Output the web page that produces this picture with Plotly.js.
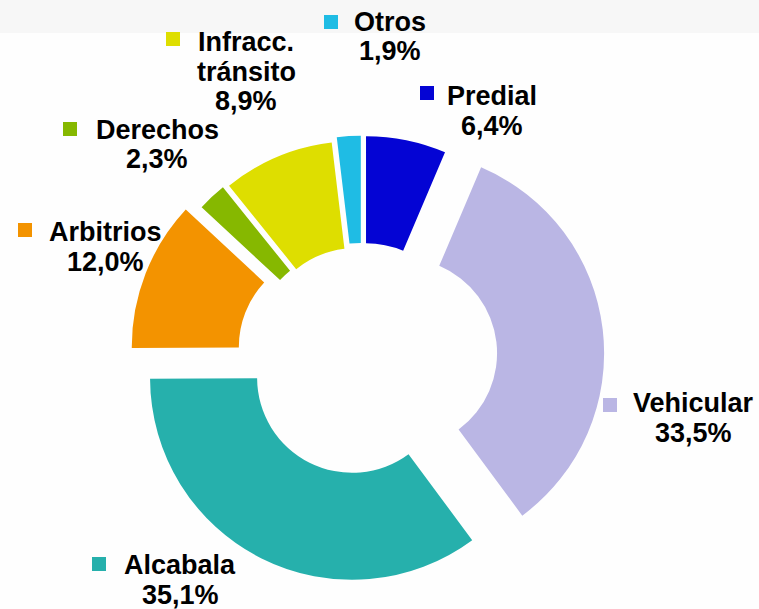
<!DOCTYPE html>
<html>
<head>
<meta charset="utf-8">
<script src="https://cdn.plot.ly/plotly-3.0.1.min.js"></script>
<style>
  html, body { margin: 0; padding: 0; background: #ffffff; }
  #chart { width: 759px; height: 609px; }
</style>
</head>
<body>
<div id="chart"></div>
<script>
// ---- data ----
var categories = ["Predial", "Vehicular", "Alcabala", "Arbitrios", "Derechos", "Infracc. tránsito", "Otros"];
var nameLines  = [["Predial"], ["Vehicular"], ["Alcabala"], ["Arbitrios"], ["Derechos"], ["Infracc.", "tránsito"], ["Otros"]];
var shares     = [6.4, 33.5, 35.1, 12.0, 2.3, 8.9, 1.9];

// ---- styles / layout helpers ----
var colors = ["#0404D4", "#BAB6E4", "#26B0AC", "#F39300", "#86B800", "#DEDE00", "#1FBCE4"];
var pulls  = [0.10, 0.20, 0.11, 0.15, 0.09, 0.08, 0.10];
// label anchor (px): centre x of text, centre y of first text line, marker left/top
var labelPos = [
  {x: 492, y: 96,  mx: 420, my: 86},
  {x: 693, y: 403, mx: 603, my: 398},
  {x: 180, y: 565, mx: 92,  my: 557},
  {x: 106, y: 232, mx: 18,  my: 223},
  {x: 157, y: 130, mx: 63,  my: 122},
  {x: 246, y: 42,  mx: 166, my: 32},
  {x: 390, y: 22,  mx: 324, my: 15}
];
var W = 759, H = 609, LINE = 29.5, FS = 27;
function px(x) { return x / W; }
function py(y) { return 1 - y / H; }
function fmt(v) { return v.toFixed(1).replace('.', ',') + '%'; }

var annotations = [];
var shapes = [
  {type: 'rect', xref: 'paper', yref: 'paper', x0: 0, x1: 1, y0: py(33), y1: 1,
   fillcolor: '#F7F7F7', line: {width: 0}, layer: 'below'}
];
for (var i = 0; i < categories.length; i++) {
  var p = labelPos[i];
  var lines = nameLines[i].concat([fmt(shares[i])]);
  for (var k = 0; k < lines.length; k++) {
    annotations.push({
      xref: 'paper', yref: 'paper', x: px(p.x), y: py(p.y + k * LINE),
      xanchor: 'center', yanchor: 'middle', showarrow: false,
      text: '<b>' + lines[k] + '</b>',
      font: {family: 'Liberation Sans, Arial, sans-serif', size: FS, color: '#000000'}
    });
  }
  shapes.push({
    type: 'rect', xref: 'paper', yref: 'paper',
    x0: px(p.mx), x1: px(p.mx + 14), y0: py(p.my + 14), y1: py(p.my),
    fillcolor: colors[i], line: {width: 0}
  });
}

// pie geometry: centre (362,358) px, radius ~202 px
var cxp = 362, cyp = 358, R = 202;
var maxPull = Math.max.apply(null, pulls);
var half = R * (1 + maxPull);

var trace = {
  type: 'pie',
  labels: categories,
  values: shares,
  sort: false,
  direction: 'clockwise',
  rotation: 0,
  hole: 0.47,
  pull: pulls,
  textinfo: 'none',
  hoverinfo: 'label+percent',
  marker: {colors: colors, line: {width: 0}},
  domain: {x: [px(cxp - half), px(cxp + half)], y: [py(cyp + half), py(cyp - half)]},
  showlegend: false
};

var layout = {
  width: W, height: H,
  margin: {l: 0, r: 0, t: 0, b: 0},
  paper_bgcolor: '#FEFEFE',
  plot_bgcolor: '#FEFEFE',
  showlegend: false,
  annotations: annotations,
  shapes: shapes
};

Plotly.newPlot('chart', [trace], layout, {displayModeBar: false, staticPlot: true});
</script>
</body>
</html>
